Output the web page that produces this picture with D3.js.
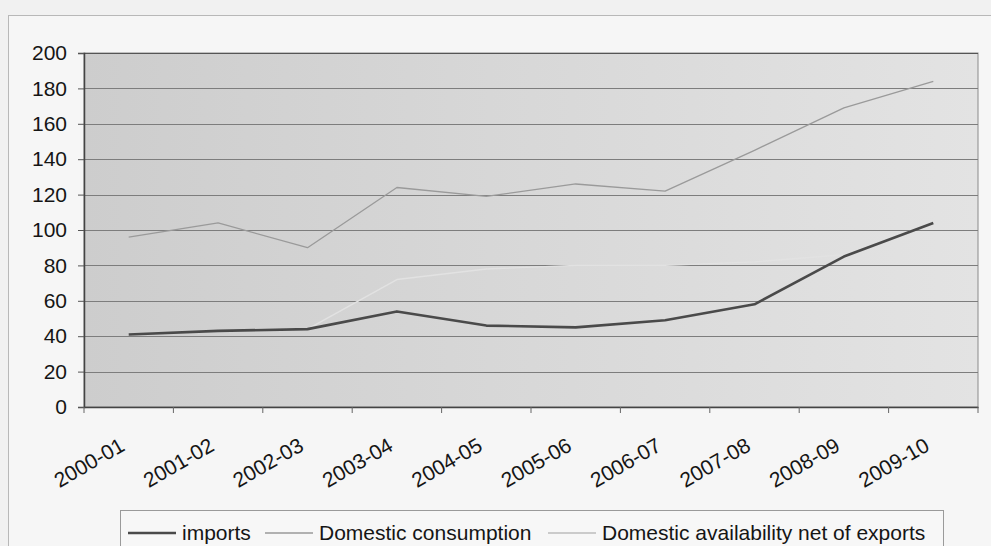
<!DOCTYPE html>
<html>
<head>
<meta charset="utf-8">
<script src="https://cdn.jsdelivr.net/npm/d3@7"></script>
<style>
  body { margin: 0; background: #f1f1f1; }
  svg { display: block; font-family: "Liberation Sans", Arial, sans-serif; }
  .axes-font text { font-size: 21px; fill: #151515; }
</style>
</head>
<body>
<div id="vis"></div>
<script>
const FRAME_WIDTH = 991;
const FRAME_HEIGHT = 546;
const MARGINS = {left: 84, right: 13, top: 53, bottom: 139};

const VIS_WIDTH = FRAME_WIDTH - MARGINS.left - MARGINS.right;
const VIS_HEIGHT = FRAME_HEIGHT - MARGINS.top - MARGINS.bottom;

// data
const YEARS = ["2000-01", "2001-02", "2002-03", "2003-04", "2004-05",
               "2005-06", "2006-07", "2007-08", "2008-09", "2009-10"];
const IMPORTS = [41, 43, 44, 54, 46, 45, 49, 58, 85, 104];
const CONSUMPTION = [96, 104, 90, 124, 119, 126, 122, 145, 169, 184];
const AVAILABILITY = [41, 43, 44, 72, 78, 80, 80, 82, 86, 104];
const Y_TICKS = [0, 20, 40, 60, 80, 100, 120, 140, 160, 180, 200];

const SERIES = [
  {name: "imports", values: IMPORTS, color: "#4a4a4a", width: 2.6},
  {name: "Domestic consumption", values: CONSUMPTION, color: "#9a9a9a", width: 1.3},
  {name: "Domestic availability net of exports", values: AVAILABILITY, color: "#e2e2e2", width: 1.4}
];

const FRAME = d3.select("#vis")
                .append("svg")
                .attr("width", FRAME_WIDTH)
                .attr("height", FRAME_HEIGHT);

// outer chart border
FRAME.append("rect")
     .attr("x", 8.5).attr("y", 15.5)
     .attr("width", 1000).attr("height", 600)
     .attr("fill", "#f6f6f6")
     .attr("stroke", "#b8b8b8");

const X_SCALE = d3.scaleBand()
                  .domain(YEARS)
                  .range([MARGINS.left, MARGINS.left + VIS_WIDTH]);

const Y_SCALE = d3.scaleLinear()
                  .domain([0, 200])
                  .range([MARGINS.top + VIS_HEIGHT, MARGINS.top]);

// plot area background
const grad = FRAME.append("defs").append("linearGradient")
                  .attr("id", "plotbg")
                  .attr("x1", "0%").attr("x2", "100%");
grad.append("stop").attr("offset", "0%").attr("stop-color", "#cdcdcd");
grad.append("stop").attr("offset", "100%").attr("stop-color", "#e3e3e3");

FRAME.append("rect")
     .attr("x", MARGINS.left).attr("y", MARGINS.top)
     .attr("width", VIS_WIDTH).attr("height", VIS_HEIGHT)
     .attr("fill", "url(#plotbg)")
     .attr("stroke", "#8a8a8a");

// gridlines
FRAME.append("g")
     .selectAll("line")
     .data(Y_TICKS.filter((d) => d > 0))
     .enter()
     .append("line")
       .attr("x1", MARGINS.left)
       .attr("x2", MARGINS.left + VIS_WIDTH)
       .attr("y1", (d) => Math.round(Y_SCALE(d)) + 0.5)
       .attr("y2", (d) => Math.round(Y_SCALE(d)) + 0.5)
       .attr("stroke", (d) => d === 200 ? "#555" : "#7d7d7d")
       .attr("stroke-width", 1);

// y-axis
const yAxis = FRAME.append("g")
     .attr("transform", "translate(" + MARGINS.left + ",0)")
     .attr("class", "axes-font")
     .call(d3.axisLeft(Y_SCALE).tickValues(Y_TICKS).tickSize(6).tickPadding(11));
yAxis.select(".domain").attr("stroke", "#444").attr("stroke-width", 1.5);
yAxis.selectAll(".tick line").attr("stroke", "#555");

// x-axis, labels at category centres, ticks at band edges
const xAxis = FRAME.append("g")
     .attr("transform", "translate(0," + (MARGINS.top + VIS_HEIGHT) + ")")
     .attr("class", "axes-font")
     .call(d3.axisBottom(X_SCALE).tickSize(0));
xAxis.select(".domain").attr("stroke", "#444").attr("stroke-width", 1.5);
xAxis.selectAll(".tick text")
     .attr("text-anchor", "end")
     .attr("dy", 0)
     .attr("transform", "translate(-4,40) rotate(-30)");

const edges = YEARS.map((d) => X_SCALE(d)).concat([X_SCALE.range()[1]]);
FRAME.append("g")
     .selectAll("line")
     .data(edges)
     .enter()
     .append("line")
       .attr("x1", (d) => d).attr("x2", (d) => d)
       .attr("y1", MARGINS.top + VIS_HEIGHT)
       .attr("y2", MARGINS.top + VIS_HEIGHT + 6)
       .attr("stroke", "#666");

// lines
const line = d3.line()
               .x((d, i) => X_SCALE(YEARS[i]) + X_SCALE.bandwidth() / 2)
               .y((d) => Y_SCALE(d));

FRAME.append("g")
     .selectAll("path")
     .data(SERIES.slice().reverse())
     .enter()
     .append("path")
       .attr("d", (d) => line(d.values))
       .attr("fill", "none")
       .attr("stroke", (d) => d.color)
       .attr("stroke-width", (d) => d.width)
       .attr("stroke-linejoin", "round");

// legend
const LEGEND = FRAME.append("g");
LEGEND.append("rect")
      .attr("x", 120.5).attr("y", 510.5)
      .attr("width", 823).attr("height", 45)
      .attr("fill", "#f7f7f7")
      .attr("stroke", "#9a9a9a");

const LEG_X = [128, 265, 548];
const item = LEGEND.selectAll(".item")
      .data(SERIES)
      .enter()
      .append("g")
        .attr("class", "item")
        .attr("transform", (d, i) => "translate(" + LEG_X[i] + ",533)");
item.append("line")
    .attr("x1", 0).attr("x2", 48)
    .attr("stroke", (d, i) => i === 2 ? "#bdbdbd" : d.color)
    .attr("stroke-width", (d) => d.width);
item.append("text")
    .attr("x", 54)
    .attr("y", 7)
    .attr("font-size", 21)
    .attr("fill", "#151515")
    .text((d) => d.name);
</script>
</body>
</html>
